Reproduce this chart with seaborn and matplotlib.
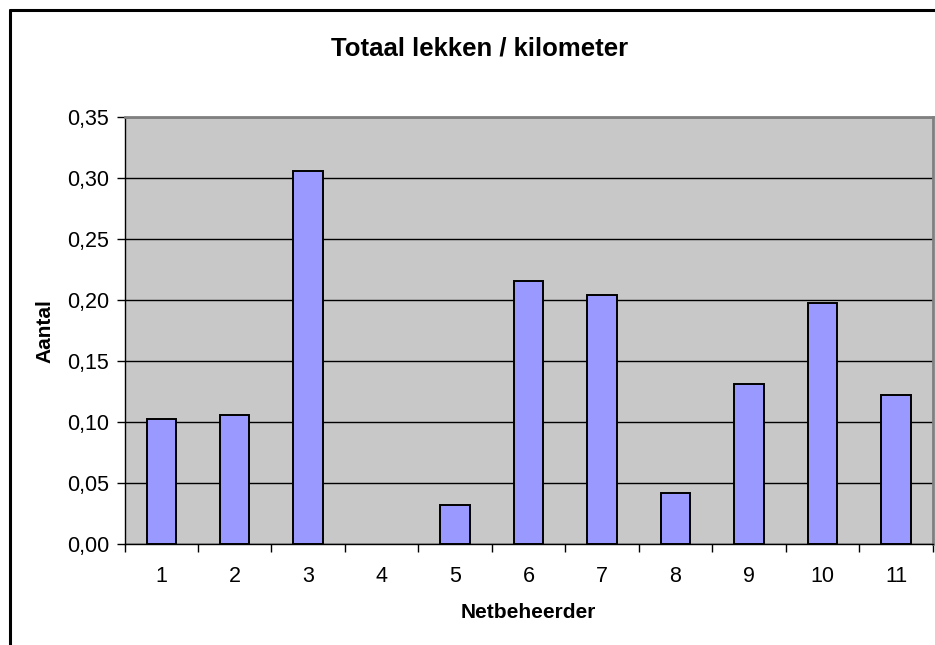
"""
Totaal lekken per kilometer per netbeheerder, as a bar chart.
Saves the figure to out.png
"""

import matplotlib
matplotlib.use("Agg")
import matplotlib.pyplot as plt
from matplotlib.lines import Line2D
from matplotlib.ticker import FixedLocator, FuncFormatter
import pandas as pd
import seaborn as sns

# ── Data ──
netbeheerders = ["1", "2", "3", "4", "5", "6", "7", "8", "9", "10", "11"]
lekken_per_km = [0.102, 0.106, 0.305, 0.0, 0.032, 0.215, 0.204, 0.042, 0.131, 0.197, 0.122]
y_ticks = [0.00, 0.05, 0.10, 0.15, 0.20, 0.25, 0.30, 0.35]

df = pd.DataFrame({"Netbeheerder": netbeheerders, "Aantal": lekken_per_km})

# ── Style ──
sns.set_style("white")
plt.rcParams["font.family"] = ["Liberation Sans", "DejaVu Sans"]
plt.rcParams["text.color"] = "black"
plt.rcParams["axes.labelcolor"] = "black"

W, H = 935, 645
fig = plt.figure(figsize=(W / 100, H / 100), dpi=100)
fig.patch.set_facecolor("white")
ax = fig.add_axes([124.5 / W, 1 - 544 / H, (932.7 - 124.5) / W, (544 - 116.5) / H])
ax.set_facecolor("#C8C8C8")

sns.barplot(
    data=df, x="Netbeheerder", y="Aantal", order=netbeheerders,
    color="#9999FF", saturation=1, width=0.4,
    edgecolor="black", linewidth=1.4, ax=ax, zorder=3,
)
# a zero-height bar is not drawn at all in the original
for bar in ax.patches:
    if bar.get_height() == 0:
        bar.set_visible(False)

ax.set_xlim(-0.5, len(netbeheerders) - 0.5)
ax.set_ylim(0, 0.35)

# gridlines
ax.yaxis.set_major_locator(FixedLocator(y_ticks))
ax.yaxis.set_major_formatter(FuncFormatter(lambda v, _: f"{v:.2f}".replace(".", ",")))
ax.grid(axis="y", color="black", linewidth=1, zorder=1)
ax.set_axisbelow(True)

# x ticks between categories, labels centred on the bars
ax.xaxis.set_major_locator(FixedLocator([i - 0.5 for i in range(len(netbeheerders) + 1)]))
ax.xaxis.set_minor_locator(FixedLocator(list(range(len(netbeheerders)))))
ax.set_xticklabels([], minor=False)
ax.set_xticklabels(netbeheerders, minor=True)
ax.tick_params(axis="x", which="major", direction="out", length=6, width=1, color="black", bottom=True)
ax.tick_params(axis="x", which="minor", length=0, labelsize=15.5, pad=16, colors="black")
ax.tick_params(axis="y", direction="out", length=6, width=1, color="black", left=True,
               labelsize=15.5, pad=5, labelcolor="black")

for side in ["left", "bottom"]:
    ax.spines[side].set_color("black")
    ax.spines[side].set_linewidth(1)
for side in ["top", "right"]:
    ax.spines[side].set_color("#808080")
    ax.spines[side].set_linewidth(2)

ax.set_xlabel("")
ax.set_ylabel("")
fig.text(528.6 / W, 1 - 612 / H, "Netbeheerder", ha="center", va="center",
         fontsize=15, fontweight="bold")
fig.text(44.5 / W, 1 - 331 / H, "Aantal", ha="center", va="center", rotation=90,
         fontsize=15, fontweight="bold")
fig.text(480 / W, 1 - 48 / H, "Totaal lekken / kilometer", ha="center", va="center",
         fontsize=18.5, fontweight="bold")

# outer chart frame (cut off at right and bottom)
fig.add_artist(Line2D([9.5 / W, 9.5 / W], [0, 1 - 9.5 / H], color="black", linewidth=2.2, transform=fig.transFigure))
fig.add_artist(Line2D([9.5 / W, 1], [1 - 9.5 / H, 1 - 9.5 / H], color="black", linewidth=2.2, transform=fig.transFigure))

plt.savefig("out.png", dpi=100, facecolor=fig.get_facecolor())
plt.close()
